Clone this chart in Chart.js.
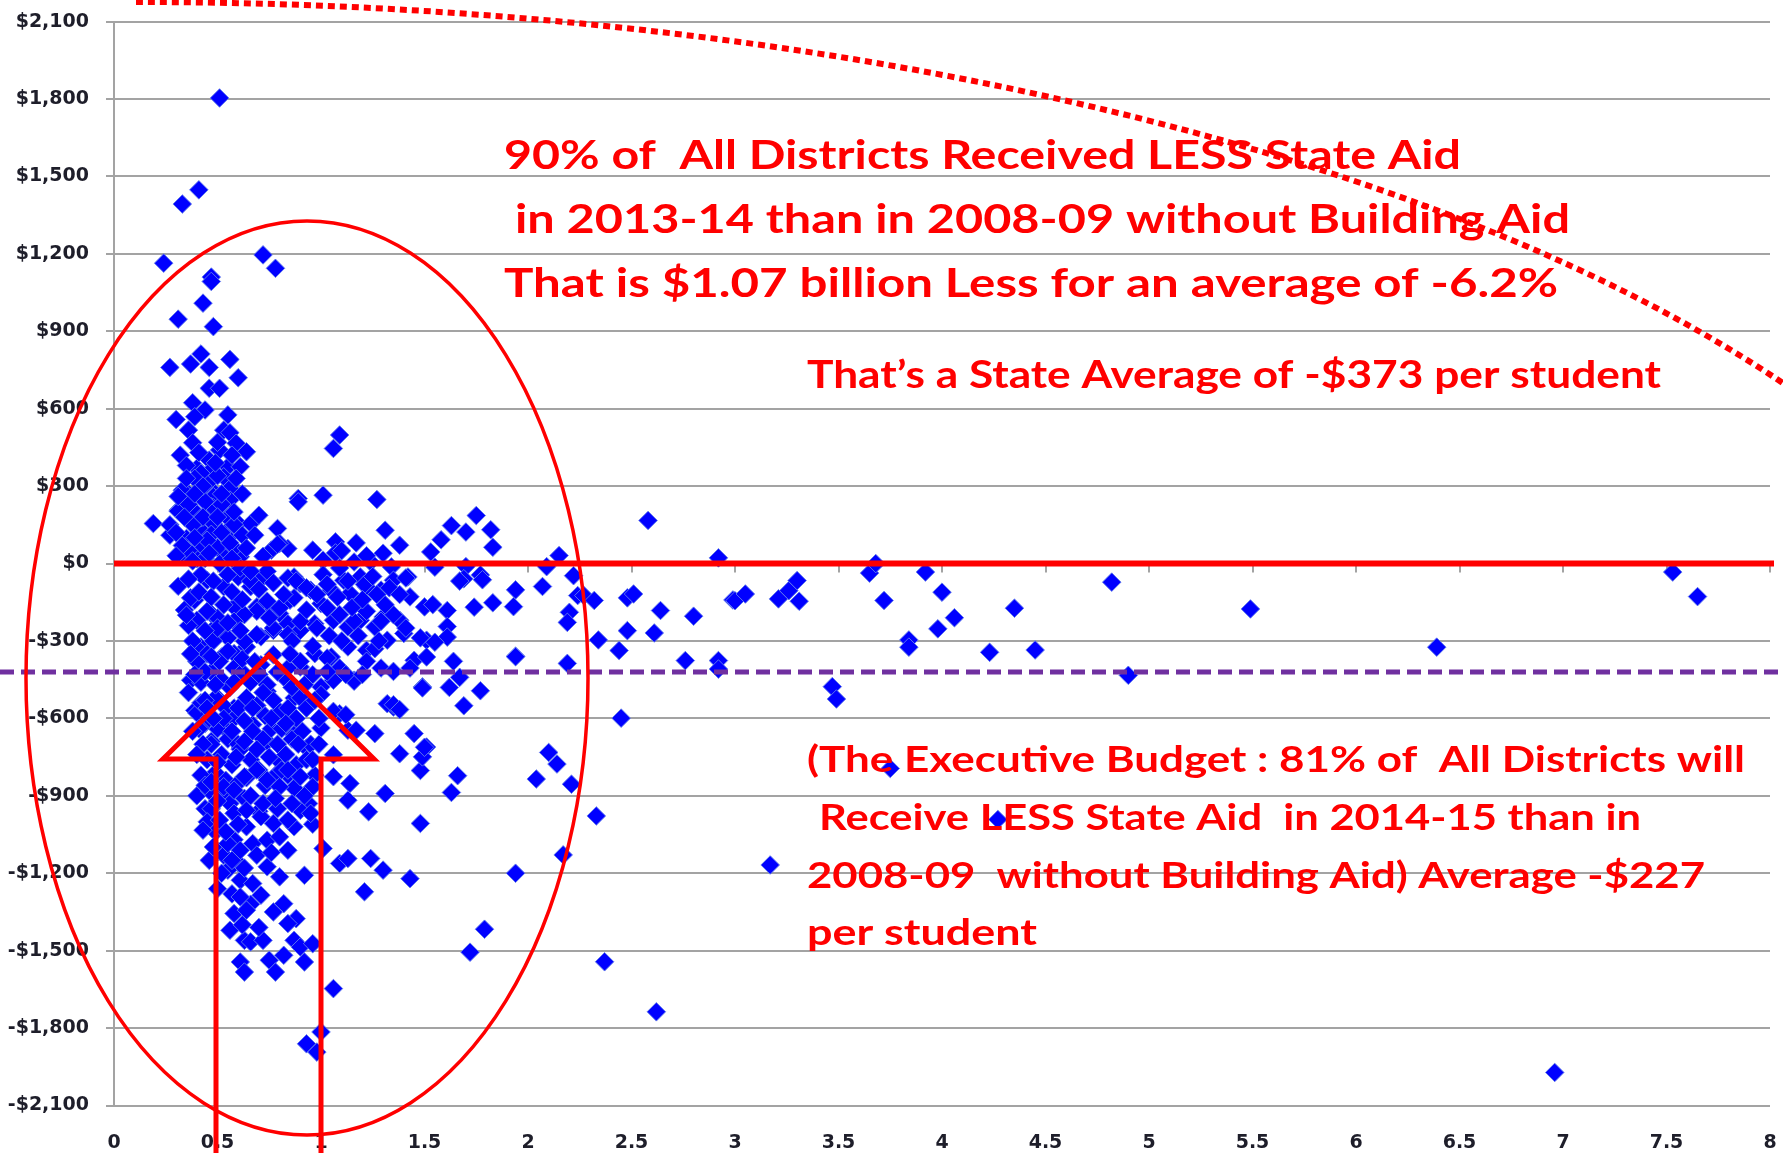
<!DOCTYPE html>
<html>
<head>
<meta charset="utf-8">
<script src="https://cdn.jsdelivr.net/npm/chart.js@4.4.1/dist/chart.umd.min.js"></script>
<style>
  html, body { margin: 0; padding: 0; background: #fff; }
  canvas { display: block; }
</style>
</head>
<body>
<canvas id="aid-chart" width="1783" height="1153"></canvas>
<script>
// [ratio, change in aid per student]
const upperCluster = [
  [0.51,1804],[0.41,1448],[0.33,1393],[0.24,1164],[0.72,1196],[0.78,1144],[0.47,1110],[0.47,1093],
  [0.43,1009],[0.31,947],[0.48,918],[0.42,812],[0.27,760],[0.37,773],[0.46,760],[0.56,791],[0.60,720],
  [0.46,679],[0.51,679],[0.38,623],[0.44,595],[0.30,558],[0.39,569],[0.55,576],[0.36,517],[0.53,517],
  [0.56,507],[0.38,468],[0.59,466],[0.51,440],[0.64,433],[1.09,498],[1.06,446],[0.46,401],[0.40,369],
  [0.47,362],[0.55,375],[0.61,375],[0.53,336],[0.44,323],[0.34,287],[0.56,291],[0.48,278],[0.89,252],
  [1.01,265],[1.27,248],[0.45,310],[0.50,470],[0.42,350]
];

const nearZero = [
  [0.33,284],[0.37,252],[0.48,259],[0.56,246],[0.31,207],[0.40,194],[0.47,220],[0.53,194],[0.19,155],
  [0.27,110],[0.35,97],[0.42,129],[0.48,155],[0.55,129],[0.60,155],[0.66,155],[0.70,187],[0.79,136],
  [0.89,239],[1.31,129],[1.38,71],[1.53,45],[0.96,52],[1.07,84],[0.84,58],[0.76,52],[0.80,78],[0.40,52],
  [0.47,65],[0.53,39],[0.61,26],[0.40,19],[1.01,13],[1.16,6],[1.24,6],[0.31,203],[0.42,177],[0.48,216],
  [0.55,177],[0.58,151],[0.42,74],[0.50,61],[0.55,100],[0.47,113],[0.33,28],[0.72,28],[0.79,74],[1.07,41],
  [0.36,230],[0.44,240],[0.52,230],[0.58,200],[0.38,150],[0.45,90],[0.52,120],[0.58,60],[0.36,50],
  [0.44,20],[0.27,150]
];

const belowZero = [
  [1.34,-13],[0.31,-88],[0.39,-142],[0.45,-65],[0.53,-90],[0.60,-52],[0.40,-220],[0.47,-194],[0.52,-259],
  [0.58,-168],[0.42,-323],[0.66,-90],[0.72,-52],[0.76,-168],[0.69,-168],[0.80,-194],[0.85,-142],[0.90,-78],
  [0.87,-52],[0.95,-103],[1.00,-155],[1.05,-103],[1.11,-65],[1.14,-116],[1.19,-52],[1.22,-90],[1.29,-103],
  [1.35,-65],[1.42,-52],[1.43,-129],[1.38,-220],[1.30,-207],[1.26,-246],[1.19,-220],[1.13,-246],[1.06,-220],
  [0.97,-233],[0.90,-259],[0.84,-233],[0.77,-259],[0.71,-284],[0.64,-323],[0.58,-349],[0.52,-362],[1.50,-168],
  [1.51,-297],[1.13,-323],[1.22,-336],[1.32,-297],[1.40,-271],[1.45,-375],[1.51,-362],[0.97,-349],[1.05,-362],
  [0.90,-401],[0.37,-452],[0.39,-569],[1.49,-478],[1.35,-556],[1.32,-543],[1.16,-452],[1.06,-452],[1.00,-478],
  [1.09,-582],[1.13,-646],[1.26,-659],[1.17,-646],[1.38,-737],[1.45,-659],[1.51,-711],[1.48,-802],
  [0.37,-133],[0.42,-43],[0.48,-68],[0.55,-43],[0.61,-17],[0.66,-68],[0.74,-30],[0.77,-75],[0.84,-56],
  [0.88,-68],[0.93,-94],[0.98,-120],[0.87,-133],[0.80,-172],[0.74,-146],[0.69,-185],[0.63,-198],[0.58,-224],
  [0.50,-211],[0.45,-185],[1.01,-43],[1.09,-17],[1.13,-68],[1.21,-81],[1.27,-120],[1.33,-94],[1.38,-120],
  [1.41,-56],[1.03,-172],[1.09,-198],[1.16,-224],[1.22,-185],[1.29,-224],[1.35,-198],[1.41,-250],[1.48,-288],
  [0.90,-224],[0.98,-250],[0.84,-275],[0.77,-250],[0.69,-275],[0.63,-301],[0.55,-288],[0.47,-262],[0.40,-327],
  [0.51,-379],[0.58,-405],[0.64,-443],[0.71,-392],[0.77,-353],[0.84,-405],[0.90,-379],[0.96,-431],[1.03,-366],
  [1.09,-405],[1.16,-456],[1.22,-379],[1.29,-405],[1.35,-418],[1.43,-405],[1.49,-482],[1.94,-359],[0.40,-579],
  [0.50,-521],[0.58,-560],[0.64,-534],[0.74,-495],[0.80,-573],[0.87,-521],[0.93,-560],[1.00,-508],[1.06,-573],
  [1.12,-586],[1.35,-547],[1.38,-566],[0.47,-689],[0.55,-650],[0.61,-715],[0.67,-624],[0.74,-689],[0.80,-767],
  [0.87,-663],[0.93,-715],[1.00,-637],[1.06,-741],
  [0.47,-420],[0.52,-450],[0.56,-480],[0.49,-520],[0.54,-560],[0.58,-600],[0.50,-640],[0.55,-680],[0.47,-700],
  [0.52,-740],[0.57,-780],[0.49,-810],[0.54,-840],[0.60,-700],[0.44,-620],[0.42,-540],[0.62,-420],[0.66,-460],
  [0.70,-430],[0.74,-470],[0.64,-520],[0.69,-550],[0.73,-590],[0.77,-530],[0.63,-610],[0.67,-650],[0.72,-680],
  [0.76,-640],[0.61,-720],[0.66,-760],[0.70,-800],[0.75,-750],[0.79,-700],[0.64,-830],[0.78,-820],[0.82,-440],
  [0.86,-480],[0.90,-520],[0.84,-560],[0.88,-600],[0.93,-560],[0.81,-640],[0.86,-680],[0.91,-650],[0.95,-700],
  [0.83,-740],[0.88,-780],[0.93,-760],[0.97,-820],[0.84,-820],[0.99,-600],
  [0.40,-380],[0.42,-460],[0.44,-530],[0.41,-640],[0.43,-700],[0.45,-760],[0.42,-820],[0.40,-900],[0.44,-950],
  [0.46,-880],[0.38,-300],[0.36,-240],[0.34,-180],[0.44,-420],[0.46,-600],[0.48,-300],[0.50,-250],[0.45,-350]
];

// the solid blue core, where markers overlap
const coreFill = [
  [0.32,420],[0.35,380],[0.39,330],[0.43,300],[0.50,340],[0.57,420],[0.41,430],[0.49,390],[0.35,330],
  [0.31,260],[0.39,270],[0.52,270],[0.59,330],[0.62,270],[0.30,120],[0.34,180],[0.39,100],[0.43,180],
  [0.50,180],[0.56,80],[0.62,110],[0.33,70],[0.38,10],[0.46,40],[0.51,0],[0.57,20],[0.64,60],[0.68,110],
  [0.30,30],
  [0.36,-60],[0.41,-110],[0.47,-130],[0.53,-160],[0.57,-110],[0.62,-140],[0.35,-200],[0.44,-260],[0.55,-230],
  [0.61,-260],[0.37,-350],[0.47,-360],[0.55,-340],[0.62,-370],[0.39,-430],[0.49,-470],[0.58,-460],[0.36,-500],
  [0.45,-560],[0.53,-600],[0.60,-560],[0.38,-650],[0.48,-600],[0.57,-650],[0.63,-690],[0.40,-740],[0.50,-770],
  [0.59,-750],[0.44,-860],[0.52,-900],[0.60,-850],[0.47,-950],[0.56,-930],[0.63,-910],[0.49,-1040],[0.58,-1070],
  [0.64,-1020],[0.46,-1150],[0.53,-1130],[0.60,-1160],[0.50,-1260],[0.57,-1280],[0.66,-1320],
  [0.66,-30],[0.70,-100],[0.75,-210],[0.82,-120],[0.86,-300],[0.93,-180],[0.96,-320],[0.68,-380],[0.72,-500],
  [0.79,-420],[0.85,-350],[0.92,-470],[0.97,-530],[0.67,-560],[0.76,-600],[0.83,-620],[0.89,-700],[0.96,-760],
  [0.69,-720],[0.73,-860],[0.81,-800],[0.87,-870],[0.94,-930],[0.99,-700],[0.70,-960],[0.79,-950],[0.87,-1020],
  [0.96,-1010],
  [1.03,-80],[1.08,-130],[1.15,-170],[1.20,-140],[1.25,-50],[1.31,-160],[1.04,-280],[1.10,-300],[1.18,-280],
  [1.26,-330],[1.03,-420],[1.12,-430],[1.20,-430],[1.28,-300],[1.10,50],[1.17,80],[1.22,30],[1.30,40]
];

const deepLosses = [
  [0.47,-846],[0.53,-865],[0.58,-878],[0.63,-826],[0.69,-800],[0.74,-839],[0.80,-865],[0.84,-800],[0.90,-826],
  [0.96,-865],[1.06,-826],[1.14,-852],[1.13,-917],[1.31,-891],[1.49,-749],[1.23,-962],[1.48,-1007],[0.45,-1001],
  [0.43,-1033],[0.51,-994],[0.58,-968],[0.64,-956],[0.71,-981],[0.77,-1007],[0.84,-994],[0.90,-956],[0.95,-968],
  [0.48,-1098],[0.55,-1085],[0.61,-1111],[0.67,-1085],[0.74,-1072],[0.80,-1059],[0.84,-1111],[1.01,-1104],
  [1.09,-1162],[1.13,-1143],[1.24,-1143],[1.30,-1188],[1.43,-1221],[1.21,-1272],[0.92,-1208],[0.55,-1188],
  [0.61,-1227],[0.67,-1240],[0.74,-1175],[0.80,-1214],[0.61,-1292],[0.71,-1285],[0.82,-1318],[0.88,-1376],
  [0.84,-1395],[0.58,-1356],[0.64,-1343],[0.56,-1421],[0.63,-1460],[0.66,-1466],[0.72,-1460],[0.87,-1460],
  [0.90,-1486],[0.96,-1473],[0.61,-1544],[0.63,-1583],[0.75,-1537],[0.78,-1583],[0.82,-1518],[0.92,-1544],
  [1.06,-1647],[1.00,-1815],[0.93,-1861],[0.98,-1893],
  [0.50,-920],[0.54,-1040],[0.60,-1010],[0.57,-1150],[0.52,-1200],[0.63,-1180],[0.69,-1130],[0.76,-1120],
  [0.66,-900],[0.72,-930],[0.78,-910],[0.86,-930],[0.92,-900],[0.62,-1400],[0.70,-1410],[0.77,-1350]
];

const outliers = [
  [1.75,186],[1.63,147],[1.70,122],[1.82,131],[1.58,92],[1.83,63],[1.55,-14],[1.70,-12],[1.77,-44],[1.69,-59],
  [1.78,-63],[2.15,31],[2.09,-12],[2.58,167],[2.92,22],[2.22,-47],[2.07,-89],[1.94,-102],[1.93,-167],[1.74,-169],
  [1.83,-152],[1.61,-182],[1.61,-244],[1.61,-285],[1.55,-305],[1.64,-379],[1.67,-441],[1.62,-480],[1.77,-493],
  [1.69,-551],[1.94,-361],[2.19,-387],[2.24,-124],[2.27,-124],[2.20,-189],[2.19,-228],[2.32,-143],[2.48,-133],
  [2.51,-118],[2.64,-182],[2.80,-204],[2.99,-141],[2.34,-296],[2.48,-260],[2.61,-269],[2.44,-337],[2.76,-376],
  [2.92,-376],[2.92,-409],[2.45,-599],[1.50,-712],[1.66,-822],[1.63,-887],[2.10,-732],[2.14,-777],[2.04,-835],
  [2.21,-855],[2.33,-978],[2.17,-1129],[1.94,-1200],[3.17,-1168],[1.79,-1417],[1.72,-1506],[2.37,-1543],
  [2.62,-1737],[3.00,-144],[3.05,-118],[3.21,-137],[3.26,-105],[3.30,-66],[3.31,-146],[3.47,-477],[3.49,-525],
  [3.65,-37],[3.68,0],[3.72,-143],[3.92,-33],[4.00,-111],[3.84,-296],[3.84,-324],[3.98,-253],[4.06,-210],
  [4.23,-344],[4.35,-173],[4.45,-335],[4.82,-72],[4.90,-433],[5.49,-176],[6.39,-324],[7.53,-33],[7.65,-128],
  [6.96,-1972],[3.75,-794],[4.27,-992],[1.67,-68],[1.54,-159]
];

const xMin = 0, xMax = 8, xStep = 0.5;
const yMin = -2100, yMax = 2100, yStep = 300;
const dashedLevel = -420;

const headline = [
  "90% of  All Districts Received LESS State Aid",
  "in 2013-14 than in 2008-09 without Building Aid",
  "That is $1.07 billion Less for an average of -6.2%"
];
const averageNote = "That\u2019s a State Average of -$373 per student";
const budgetNote = [
  "(The Executive Budget : 81% of  All Districts will",
  "Receive LESS State Aid  in 2014-15 than in",
  "2008-09  without Building Aid) Average -$227",
  "per student"
];

const gridColor = "#a3a3a3";
const labelFont = { family: "DejaVu Sans", size: 19, weight: "bold" };
const labelColor = "#1e1e2a";

// draws bold red text squeezed to the width it has in the picture
function fitText(ctx, text, left, baseline, width, size) {
  ctx.font = "bold " + size + "px Lato";
  const w = ctx.measureText(text).width;
  ctx.save();
  ctx.translate(left, baseline);
  ctx.scale(width / w, 1);
  ctx.fillText(text, 0, 0);
  ctx.restore();
}

const overlayPlugin = {
  id: "overlay",
  beforeDatasetsDraw(chart) {
    const { ctx, scales: { x, y } } = chart;
    const y0 = y.getPixelForValue(0);
    ctx.save();
    ctx.strokeStyle = gridColor;
    ctx.lineWidth = 2;
    for (let v = xMin; v <= xMax; v += xStep) {
      const px = Math.round(x.getPixelForValue(v));
      ctx.beginPath();
      ctx.moveTo(px, y0);
      ctx.lineTo(px, y0 + 9);
      ctx.stroke();
    }
    ctx.restore();
  },
  afterDraw(chart) {
    const { ctx, chartArea, scales: { y } } = chart;
    ctx.save();

    // zero line
    const y0 = y.getPixelForValue(0);
    ctx.strokeStyle = "#ff0000";
    ctx.lineWidth = 6;
    ctx.beginPath();
    ctx.moveTo(chartArea.left, y0);
    ctx.lineTo(chartArea.right + 4, y0);
    ctx.stroke();

    // purple dashed line
    const yd = y.getPixelForValue(dashedLevel);
    ctx.strokeStyle = "#7030a0";
    ctx.lineWidth = 5;
    ctx.setLineDash([14, 7]);
    ctx.beginPath();
    ctx.moveTo(0, yd);
    ctx.lineTo(chart.width, yd);
    ctx.stroke();

    // dotted curve top right
    ctx.strokeStyle = "#ff0000";
    ctx.lineWidth = 6;
    ctx.setLineDash([7, 5]);
    ctx.beginPath();
    ctx.ellipse(136, 802, 1933, 800, 0, -Math.PI / 2, 0);
    ctx.stroke();
    ctx.setLineDash([]);

    // ellipse round the cluster
    ctx.lineWidth = 3.5;
    ctx.beginPath();
    ctx.ellipse(307, 678, 281, 457, 0, 0, Math.PI * 2);
    ctx.stroke();

    // arrow outline
    ctx.lineWidth = 5;
    ctx.lineJoin = "miter";
    ctx.beginPath();
    ctx.moveTo(216, 1170);
    ctx.lineTo(216, 759);
    ctx.lineTo(163, 759);
    ctx.lineTo(269, 655);
    ctx.lineTo(374, 759);
    ctx.lineTo(321, 759);
    ctx.lineTo(321, 1170);
    ctx.stroke();

    // notes
    ctx.fillStyle = "#ff0000";
    ctx.textBaseline = "alphabetic";
    fitText(ctx, headline[0], 504, 169, 957, 41);
    fitText(ctx, headline[1], 515, 233, 1055, 41);
    fitText(ctx, headline[2], 504, 297, 1054, 41);
    fitText(ctx, averageNote, 807, 388, 854, 38);
    fitText(ctx, budgetNote[0], 807, 772, 938, 36);
    fitText(ctx, budgetNote[1], 819, 830, 822, 36);
    fitText(ctx, budgetNote[2], 807, 888, 898, 36);
    fitText(ctx, budgetNote[3], 807, 945, 230, 36);

    ctx.restore();
  }
};

const points = [...upperCluster, ...nearZero, ...belowZero, ...coreFill, ...deepLosses, ...outliers]
  .map(([x, y]) => ({ x, y }));

new Chart(document.getElementById("aid-chart"), {
  type: "scatter",
  data: {
    datasets: [{
      data: points,
      pointStyle: "rectRot",
      pointRadius: 9.3,
      backgroundColor: "#0000ff",
      borderColor: "rgba(100,125,235,0.9)",
      borderWidth: 1
    }]
  },
  options: {
    responsive: false,
    animation: false,
    layout: { padding: { top: 21.6, right: 13, left: 0, bottom: 0 } },
    plugins: { legend: { display: false }, tooltip: { enabled: false } },
    scales: {
      x: {
        type: "linear",
        min: xMin,
        max: xMax,
        ticks: {
          stepSize: xStep,
          autoSkip: false,
          maxRotation: 0,
          padding: 26,
          font: labelFont,
          color: labelColor,
          callback: v => String(v)
        },
        grid: { display: false, drawTicks: false },
        border: { display: false },
        afterFit: s => { s.height = 47.5; s.paddingLeft = 0; s.paddingRight = 0; }
      },
      y: {
        min: yMin,
        max: yMax,
        ticks: {
          stepSize: yStep,
          padding: 17,
          font: labelFont,
          color: labelColor,
          callback: v => (v < 0 ? "-$" : "$") + Math.abs(v).toLocaleString("en-US")
        },
        grid: { color: gridColor, lineWidth: 2, tickLength: 8 },
        border: { color: gridColor, width: 2 },
        afterFit: s => { s.width = 114; s.paddingTop = 0; s.paddingBottom = 0; }
      }
    }
  },
  plugins: [overlayPlugin]
});
</script>
</body>
</html>
